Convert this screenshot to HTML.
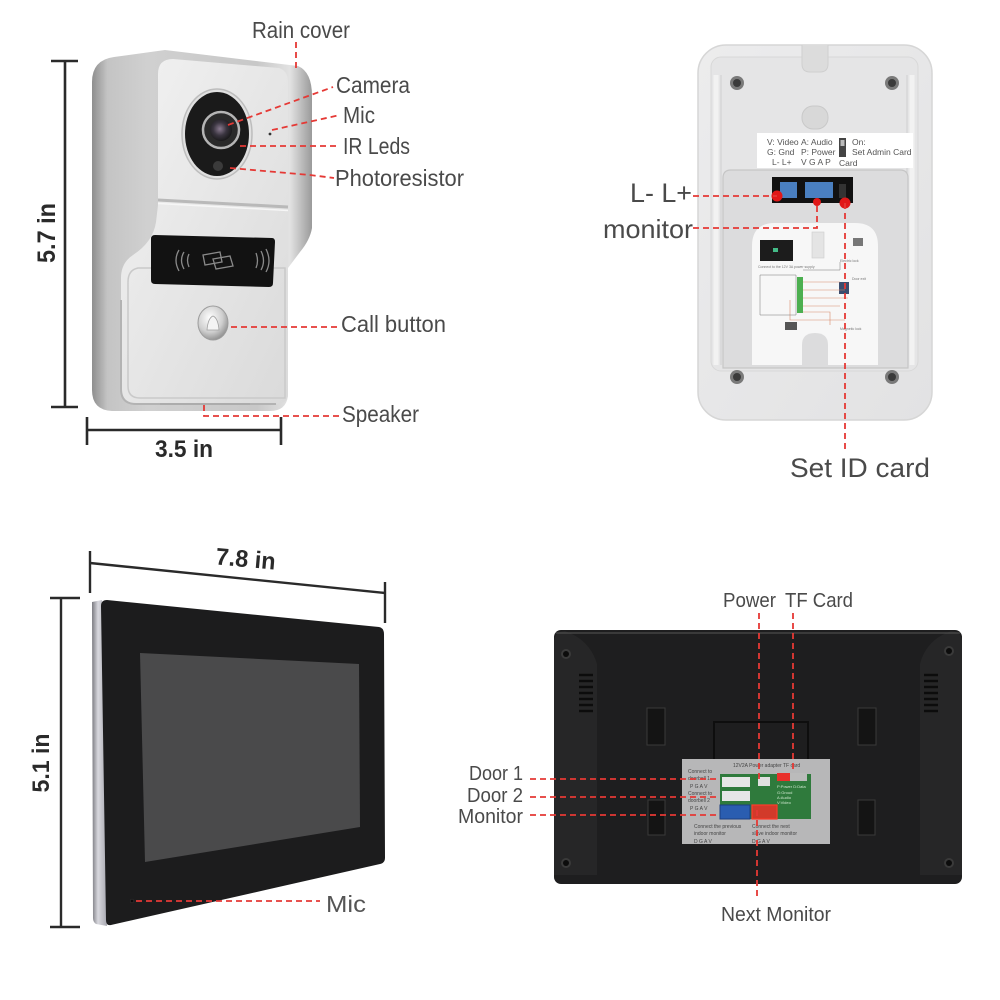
<!DOCTYPE html>
<html><head><meta charset="utf-8"><style>
html,body{margin:0;padding:0;background:#fff;}
svg{display:block;}
text{font-family:"Liberation Sans",Arial,sans-serif;}
</style></head><body>
<svg width="1000" height="1000" viewBox="0 0 1000 1000" xmlns="http://www.w3.org/2000/svg">
<defs>
<linearGradient id="gShell" x1="0" y1="0" x2="1" y2="0">
<stop offset="0" stop-color="#8e8e8e"/><stop offset="0.07" stop-color="#c4c4c4"/><stop offset="0.25" stop-color="#d0d0d0"/><stop offset="0.75" stop-color="#c8c8c8"/><stop offset="0.9" stop-color="#e2e2e2"/><stop offset="1" stop-color="#9a9a9a"/>
</linearGradient>
<linearGradient id="gFront" x1="0" y1="0" x2="1" y2="1">
<stop offset="0" stop-color="#f2f2f2"/><stop offset="0.5" stop-color="#e6e6e6"/><stop offset="1" stop-color="#dadada"/>
</linearGradient>
<radialGradient id="gBtn" cx="0.4" cy="0.35" r="0.7">
<stop offset="0" stop-color="#ffffff"/><stop offset="0.6" stop-color="#cfcfcf"/><stop offset="1" stop-color="#8a8a8a"/>
</radialGradient>
<radialGradient id="gLens" cx="0.45" cy="0.45" r="0.6">
<stop offset="0" stop-color="#8a7a90"/><stop offset="0.5" stop-color="#3a3540"/><stop offset="1" stop-color="#151515"/>
</radialGradient>
<linearGradient id="gStrip" x1="0" y1="0" x2="1" y2="0">
<stop offset="0" stop-color="#7a7a80"/><stop offset="0.4" stop-color="#d8d8de"/><stop offset="1" stop-color="#a8a8b0"/>
</linearGradient>
<linearGradient id="gPlate" x1="0" y1="0" x2="1" y2="1">
<stop offset="0" stop-color="#ececed"/><stop offset="1" stop-color="#e2e2e3"/>
</linearGradient>
</defs>

<!-- ============ TOP LEFT: DOORBELL ============ -->
<!-- shell -->
<path d="M92 82 Q92 60 114 57 L165 50 L298 66 Q312 72 312 96 L312 228 Q310 240 300 252 L288 268 L288 396 Q286 411 270 411 L112 411 Q92 410 92 390 Z" fill="url(#gShell)"/>
<!-- front face -->
<path d="M158 74 Q158 59 173 59 L279 68 Q288 71 288 82 L288 394 Q288 404 276 404 L136 404 Q121 404 121 389 L121 278 Q121 263 133 255 Q153 242 156 222 L158 205 Z" fill="url(#gFront)"/>
<!-- lower lip -->
<path d="M128 282 Q128 270 138 268 L285 268 L285 398 L140 398 Q128 398 128 386 Z" fill="none" stroke="#c9c9c9" stroke-width="1.5"/>
<path d="M121 300 L121 389 Q121 404 136 404 L276 404" fill="none" stroke="#b3b3b3" stroke-width="2"/>
<!-- groove -->
<path d="M158 200 L288 207" stroke="#b9b9b9" stroke-width="3"/>
<path d="M158 203.5 L288 210.5" stroke="#f6f6f6" stroke-width="1.5"/>
<!-- camera -->
<ellipse cx="217" cy="134" rx="35" ry="45" fill="#e0e0e0" stroke="#bdbdbd" stroke-width="1.5"/>
<ellipse cx="217" cy="134" rx="32" ry="42" fill="#1a1a1a"/>
<circle cx="221" cy="130" r="18" fill="#2a2a2a" stroke="#b5b5b5" stroke-width="2.5"/>
<circle cx="221" cy="130" r="11" fill="url(#gLens)"/>
<circle cx="218" cy="166" r="5" fill="#3b3b3b"/>
<circle cx="270" cy="134" r="1.4" fill="#333"/>
<!-- RFID -->
<path d="M155 235 L272 238 Q275 238 275 242 L273 283 Q273 287 269 287 L155 284 Q151 284 151 280 L151 239 Q151 235 155 235 Z" fill="#121212"/>
<g fill="none" stroke="#8a8a8a" stroke-width="1.3">
<path d="M179 250 Q173 260 179 271"/><path d="M184 252 Q179 260 184 269"/><path d="M189 254 Q186 260 189 267"/>
<path d="M256 253 Q259 261 256 268"/><path d="M261 251 Q266 261 261 270"/><path d="M266 249 Q272 261 266 272"/>
<path d="M203 255 L220 252 L222 262 L205 265 Z"/><path d="M213 259 L230 256 L233 266 L216 269 Z"/>
</g>
<!-- call button -->
<ellipse cx="213" cy="323" rx="15" ry="17" fill="url(#gBtn)" stroke="#9c9c9c" stroke-width="1"/>
<path d="M207 330 Q208 318 213 316 Q218 318 219 330 Z" fill="#f4f4f4" stroke="#a0a0a0" stroke-width="0.8"/>
<!-- speaker slit -->
<path d="M160 404 L250 404" stroke="#a5a5a5" stroke-width="1"/>

<!-- dimension lines -->
<g stroke="#2a2a2a" stroke-width="2.6" fill="none">
<path d="M65 61 L65 407"/><path d="M51 61 L78 61"/><path d="M51 407 L78 407"/>
<path d="M87 430 L281 430"/><path d="M87 417 L87 445"/><path d="M281 417 L281 445"/>
</g>
<text transform="translate(55,233) rotate(-90)" font-size="25" font-weight="bold" fill="#2a2a2a" text-anchor="middle" textLength="60" lengthAdjust="spacingAndGlyphs">5.7 in</text>
<text x="155" y="457" font-size="24" font-weight="bold" fill="#2a2a2a" textLength="58" lengthAdjust="spacingAndGlyphs">3.5 in</text>

<!-- red dashed -->
<g stroke="#e53935" stroke-width="1.8" fill="none" stroke-dasharray="6 4">
<path d="M296 42 L296 68"/>
<path d="M228 125 L333 87"/>
<path d="M272 130 L340 115"/>
<path d="M240 146 L340 146"/>
<path d="M230 168 L310 175 L334 178"/>
<path d="M231 327 L340 327"/>
<path d="M204 405 L204 416 L340 416"/>
</g>
<g font-size="23" fill="#4a4a4a">
<text x="252" y="38" textLength="98" lengthAdjust="spacingAndGlyphs">Rain cover</text>
<text x="336" y="93" textLength="74" lengthAdjust="spacingAndGlyphs">Camera</text>
<text x="343" y="123" textLength="32" lengthAdjust="spacingAndGlyphs">Mic</text>
<text x="343" y="154" textLength="67" lengthAdjust="spacingAndGlyphs">IR Leds</text>
<text x="335" y="186" textLength="129" lengthAdjust="spacingAndGlyphs">Photoresistor</text>
<text x="341" y="332" textLength="105" lengthAdjust="spacingAndGlyphs">Call button</text>
<text x="342" y="422" textLength="77" lengthAdjust="spacingAndGlyphs">Speaker</text>
</g>

<!-- ============ TOP RIGHT: DOORBELL BACK ============ -->
<rect x="698" y="45" width="234" height="375" rx="28" fill="url(#gPlate)" stroke="#d6d6d6" stroke-width="1.5"/>
<rect x="711" y="57" width="207" height="314" rx="10" fill="#e5e5e6" stroke="#d8d8d8" stroke-width="1"/>
<path d="M716 75 L716 365 M912 75 L912 365" stroke="#f2f2f2" stroke-width="5"/>
<path d="M721 75 L721 365 M907 75 L907 365" stroke="#d0d0d0" stroke-width="1"/>
<path d="M802 45 L802 64 Q802 72 810 72 L820 72 Q828 72 828 64 L828 45" fill="#dcdcdc" stroke="#cfcfcf"/>
<rect x="802" y="106" width="26" height="23" rx="11" fill="#d8d8d8" stroke="#c9c9c9"/>
<!-- screws -->
<g>
<circle cx="737" cy="83" r="7" fill="#7a7a7a"/><circle cx="737" cy="83" r="4" fill="#3a3a3a"/>
<circle cx="892" cy="83" r="7" fill="#7a7a7a"/><circle cx="892" cy="83" r="4" fill="#3a3a3a"/>
<circle cx="737" cy="377" r="7" fill="#7a7a7a"/><circle cx="737" cy="377" r="4" fill="#3a3a3a"/>
<circle cx="892" cy="377" r="7" fill="#7a7a7a"/><circle cx="892" cy="377" r="4" fill="#3a3a3a"/>
</g>
<!-- label -->
<rect x="757" y="133" width="156" height="35" fill="#ffffff"/>
<g font-size="8.5" fill="#555">
<text x="767" y="145">V: Video</text><text x="801" y="145">A: Audio</text>
<text x="767" y="155">G: Gnd</text><text x="801" y="155">P: Power</text>
<text x="772" y="165">L-  L+</text><text x="801" y="165">V G A P</text>
<text x="852" y="145">On:</text><text x="852" y="155">Set Admin Card</text>
<text x="839" y="166">Card</text>
</g>
<rect x="839" y="138" width="7" height="19" fill="#444"/><rect x="840.5" y="140" width="4" height="6" fill="#bbb"/>
<!-- recess -->
<path d="M723 178 Q723 170 731 170 L900 170 Q908 170 908 178 L908 368 L723 368 Z" fill="#dcdcdd" stroke="#c6c6c6" stroke-width="1.2"/>
<!-- connector bar -->
<rect x="772" y="177" width="81" height="26" fill="#111"/>
<rect x="780" y="182" width="17" height="16" fill="#4a7fc0"/>
<rect x="805" y="182" width="28" height="16" fill="#4a7fc0"/>
<rect x="839" y="184" width="7" height="14" fill="#333"/>
<!-- wiring panel -->
<path d="M752 365 L752 246 Q752 223 775 223 L855 223 Q878 223 878 246 L878 365 Z" fill="#f7f7f7"/>
<path d="M802 367 L802 345 Q802 333 815 333 Q828 333 828 345 L828 367 Z" fill="#dcdcdd"/>
<rect x="760" y="240" width="33" height="21" fill="#1c1c1c"/>
<rect x="773" y="248" width="5" height="4" fill="#4b8"/>
<rect x="812" y="232" width="12" height="26" fill="#e4e4e4" stroke="#ccc" stroke-width="0.6"/>
<rect x="797" y="277" width="6" height="36" fill="#4caf50"/>
<rect x="839" y="282" width="10" height="12" fill="#3b4d6e"/>
<rect x="853" y="238" width="10" height="8" fill="#777"/>
<rect x="785" y="322" width="12" height="8" fill="#555"/>
<g stroke="#d88a6a" stroke-width="0.6" fill="none">
<path d="M803 282 L840 282 M803 290 L845 290 M803 298 L848 298 M803 306 L840 306 M803 312 L830 312 L830 325"/>
<path d="M790 300 L790 320 L845 320"/>
</g>
<g stroke="#777" stroke-width="0.5" fill="none">
<path d="M760 275 L796 275 L796 315 L760 315 Z"/><path d="M803 270 L840 270 L840 262"/>
</g>
<g font-size="3.5" fill="#777"><text x="758" y="268">Connect to the 12V 3A power supply</text><text x="840" y="262">Electric lock</text><text x="852" y="280">Door exit</text><text x="840" y="330">Magnetic lock</text></g>
<circle cx="777" cy="196" r="5.5" fill="#e01818"/>
<circle cx="817" cy="202" r="4" fill="#e01818"/>
<circle cx="845" cy="203" r="5.5" fill="#e01818"/>
<g stroke="#e53935" stroke-width="1.8" fill="none" stroke-dasharray="6 4">
<path d="M693 196 L777 196"/>
<path d="M693 228 L817 228 L817 202"/>
<path d="M845 203 L845 452"/>
</g>
<text x="630" y="202" font-size="27" fill="#4a4a4a" textLength="62" lengthAdjust="spacingAndGlyphs">L-  L+</text>
<text x="603" y="238" font-size="26" fill="#4a4a4a" textLength="90" lengthAdjust="spacingAndGlyphs">monitor</text>
<text x="790" y="477" font-size="27" fill="#4a4a4a" textLength="140" lengthAdjust="spacingAndGlyphs">Set ID card</text>

<!-- ============ BOTTOM LEFT: MONITOR FRONT ============ -->
<g stroke="#2a2a2a" stroke-width="2.4" fill="none">
<path d="M90 563 L385 593"/><path d="M90 551 L90 593"/><path d="M385 582 L385 623"/>
<path d="M61 598 L61 927"/><path d="M50 598 L80 598"/><path d="M50 927 L80 927"/>
</g>
<text transform="translate(245,567) rotate(5)" font-size="24" font-weight="bold" fill="#2a2a2a" text-anchor="middle" textLength="60" lengthAdjust="spacingAndGlyphs">7.8 in</text>
<text transform="translate(49,763) rotate(-90)" font-size="24" font-weight="bold" fill="#2a2a2a" text-anchor="middle" textLength="59" lengthAdjust="spacingAndGlyphs">5.1 in</text>
<path d="M92 602 L102 600 L107 926 L96 924 Q93 922 93 918 Z" fill="url(#gStrip)"/>
<path d="M101 606 Q101 600 107 600 L379 627 Q384 628 384 634 L385 858 Q385 863 380 864 L111 925 Q106 926 106 920 Z" fill="#1c1c1d"/>
<path d="M140 653 L359 664 L360 827 L145 862 Z" fill="#4a4a4b"/>
<circle cx="132" cy="901" r="1.8" fill="#0a0a0a" stroke="#333" stroke-width="0.6"/>
<path d="M136 901 L320 901" stroke="#e53935" stroke-width="1.8" stroke-dasharray="6 4"/>
<text x="326" y="912" font-size="23" fill="#555" textLength="40" lengthAdjust="spacingAndGlyphs">Mic</text>

<!-- ============ BOTTOM RIGHT: MONITOR BACK ============ -->
<rect x="554" y="630" width="408" height="254" rx="7" fill="#1e1e1f"/>
<path d="M554 640 Q556 631 565 631 Q590 640 597 664 L597 875 L554 875 Z" fill="#262627"/>
<path d="M962 640 Q960 631 951 631 Q926 640 920 664 L920 875 L962 875 Z" fill="#262627"/>
<rect x="597" y="640" width="323" height="240" fill="#1e1e1f"/>
<path d="M556 633 L960 633" stroke="#555" stroke-width="1"/>
<g fill="#3a3a3a">
<circle cx="566" cy="654" r="5"/><circle cx="949" cy="651" r="5"/><circle cx="566" cy="863" r="5"/><circle cx="949" cy="863" r="5"/>
</g>
<g fill="#0c0c0c">
<circle cx="566" cy="654" r="3"/><circle cx="949" cy="651" r="3"/><circle cx="566" cy="863" r="3"/><circle cx="949" cy="863" r="3"/>
</g>
<g stroke="#0c0c0c" stroke-width="2.4">
<path d="M579 675 L593 675 M579 681 L593 681 M579 687 L593 687 M579 693 L593 693 M579 699 L593 699 M579 705 L593 705 M579 711 L593 711"/>
<path d="M924 675 L938 675 M924 681 L938 681 M924 687 L938 687 M924 693 L938 693 M924 699 L938 699 M924 705 L938 705 M924 711 L938 711"/>
</g>
<g fill="#141414" stroke="#3a3a3a" stroke-width="1">
<rect x="647" y="708" width="18" height="37"/><rect x="858" y="708" width="18" height="37"/>
<rect x="648" y="800" width="17" height="35"/><rect x="858" y="800" width="17" height="35"/>
</g>
<path d="M714 768 L714 722 L808 722 L808 768" fill="none" stroke="#0e0e0e" stroke-width="2"/>
<!-- label panel -->
<rect x="682" y="759" width="148" height="85" fill="#b7b7b8"/>
<rect x="720" y="774" width="91" height="45" fill="#2f7a3c"/>
<rect x="722" y="777" width="28" height="10" fill="#e6e6e6"/>
<rect x="722" y="791" width="28" height="10" fill="#e6e6e6"/>
<rect x="720" y="805" width="30" height="14" fill="#2a5db0" stroke="#1c3f80"/>
<rect x="752" y="805" width="25" height="14" fill="#d23a2a" stroke="#ff3b2b" stroke-width="1.2"/>
<rect x="758" y="777" width="12" height="9" fill="#e0e0e0"/>
<rect x="777" y="773" width="13" height="8" fill="#e8302a"/>
<rect x="790" y="773" width="17" height="8" fill="#bbb"/>
<g font-size="5" fill="#444">
<text x="733" y="767">12V2A Power adapter   TF card</text>
<text x="688" y="773">Connect to</text><text x="688" y="780">doorbell 1</text><text x="690" y="788">P G A V</text>
<text x="688" y="795">Connect to</text><text x="688" y="802">doorbell 2</text><text x="690" y="810">P G A V</text>
<text x="694" y="828">Connect the previous</text><text x="694" y="835">indoor monitor</text><text x="694" y="843">D G A V</text>
<text x="752" y="828">Connect the next</text><text x="752" y="835">slave indoor monitor</text><text x="752" y="843">D G A V</text>
</g>
<g font-size="4" fill="#cfe8cf"><text x="777" y="788">P:Power D:Data</text><text x="777" y="794">G:Groud</text><text x="777" y="799">A:Audio</text><text x="777" y="804">V:Video</text></g>
<g stroke="#e53935" stroke-width="1.8" fill="none" stroke-dasharray="6 4">
<path d="M530 779 L718 779"/>
<path d="M530 797 L718 797"/>
<path d="M530 815 L718 815"/>
<path d="M759 613 L759 780"/>
<path d="M793 613 L793 773"/>
<path d="M757 810 L757 900"/>
</g>
<g font-size="20" fill="#4a4a4a">
<text x="723" y="607" textLength="53" lengthAdjust="spacingAndGlyphs">Power</text>
<text x="785" y="607" textLength="68" lengthAdjust="spacingAndGlyphs">TF Card</text>
<text x="469" y="780" textLength="54" lengthAdjust="spacingAndGlyphs">Door 1</text>
<text x="467" y="802" textLength="56" lengthAdjust="spacingAndGlyphs">Door 2</text>
<text x="458" y="823" textLength="65" lengthAdjust="spacingAndGlyphs">Monitor</text>
<text x="721" y="921" textLength="110" lengthAdjust="spacingAndGlyphs">Next Monitor</text>
</g>
</svg>
</body></html>
